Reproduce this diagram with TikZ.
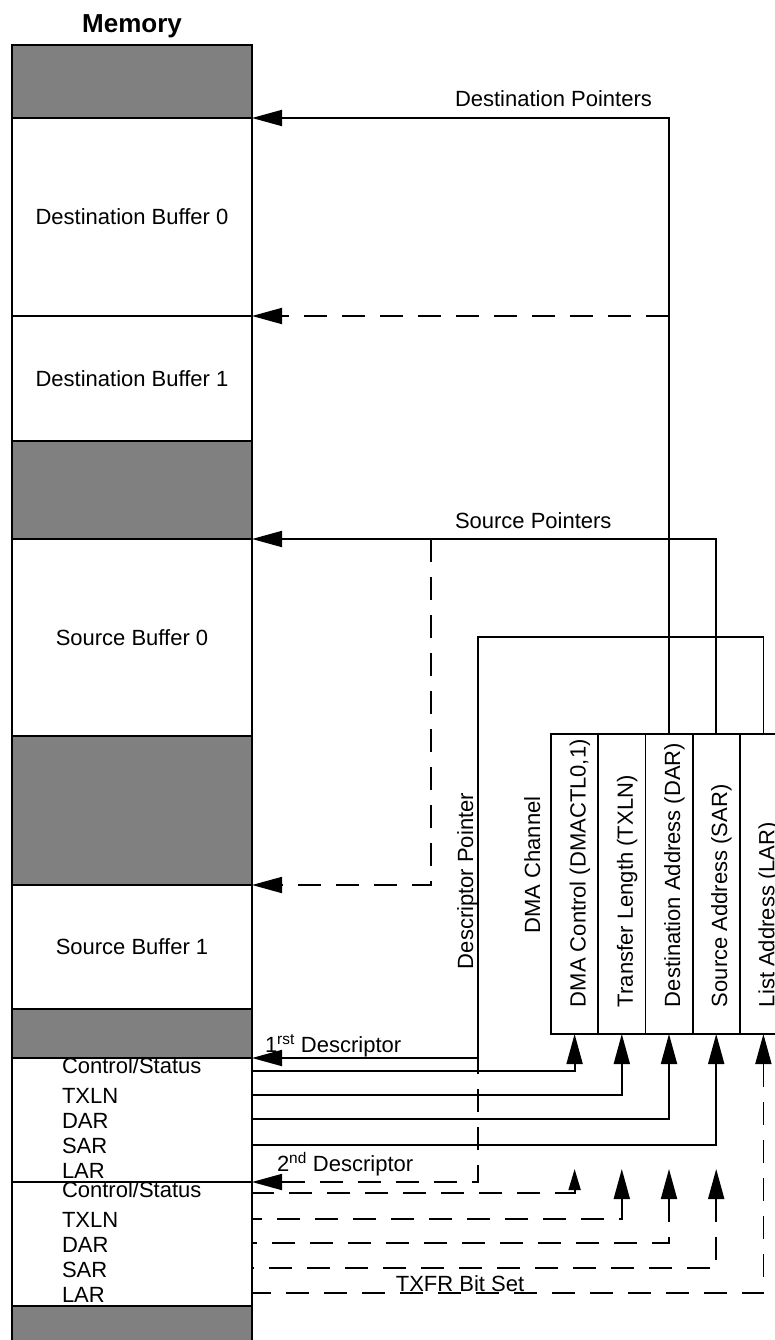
\documentclass[tikz,border=0pt]{standalone}
\usepackage{fontspec}
\setmainfont{Liberation Sans}
\usetikzlibrary{arrows.meta}
\definecolor{memgray}{RGB}{128,128,128}
\begin{document}
\begin{tikzpicture}[x=1pt,y=-1pt, line width=1.8pt, font=\fontsize{22}{26}\selectfont,
  memrow/.style={draw, rectangle, minimum width=240pt, anchor=north west, inner sep=0pt, outer sep=0pt},
  graycell/.style={memrow, fill=memgray},
  reg/.style={draw, rectangle, minimum width=47.2pt, minimum height=300pt, anchor=north west, inner sep=0pt, outer sep=0pt},
  ptr/.style={-{Triangle[length=30pt,width=16pt]}},
  rptr/.style={{Triangle[length=30pt,width=16pt]}-},
  rptrsmall/.style={{Triangle[length=21pt,width=12pt]}-},
  dsh/.style={dash pattern=on 23pt off 15pt},
  lbl/.style={inner sep=0pt, outer sep=0pt},
  vlbl/.style={lbl, rotate=90, anchor=base west}
]
\useasboundingbox (0,0) rectangle (775,1340);

% title
\node[lbl, anchor=base, font=\fontsize{26}{30}\selectfont\bfseries] (title) at (132,33) {Memory};

% memory rows
\node[graycell, minimum height=73pt]  (g1)  at (12,45)   {};
\node[memrow,   minimum height=198pt] (db0) at (12,118)  {Destination Buffer 0};
\node[memrow,   minimum height=125pt] (db1) at (12,316)  {Destination Buffer 1};
\node[graycell, minimum height=98pt]  (g2)  at (12,441)  {};
\node[memrow,   minimum height=197pt] (sb0) at (12,539)  {Source Buffer 0};
\node[graycell, minimum height=149pt] (g3)  at (12,736)  {};
\node[memrow,   minimum height=124pt] (sb1) at (12,885)  {Source Buffer 1};
\node[graycell, minimum height=49pt]  (g4)  at (12,1009) {};
\node[memrow,   minimum height=124pt] (d1)  at (12,1058) {};
\node[memrow,   minimum height=124pt] (d2)  at (12,1182) {};
\node[graycell, minimum height=60pt]  (g5)  at (12,1306) {};

% descriptor fields
\node[lbl, anchor=base west] (d1cs) at (62,1073) {Control/Status};
\node[lbl, anchor=base west] (d1tx) at (62,1103) {TXLN};
\node[lbl, anchor=base west] (d1da) at (62,1128) {DAR};
\node[lbl, anchor=base west] (d1sa) at (62,1153) {SAR};
\node[lbl, anchor=base west] (d1la) at (62,1178) {LAR};
\node[lbl, anchor=base west] (d2cs) at (62,1197) {Control/Status};
\node[lbl, anchor=base west] (d2tx) at (62,1227) {TXLN};
\node[lbl, anchor=base west] (d2da) at (62,1252) {DAR};
\node[lbl, anchor=base west] (d2sa) at (62,1277) {SAR};
\node[lbl, anchor=base west] (d2la) at (62,1302) {LAR};

% DMA channel registers
\node[reg] (rctl) at (551,734)   {};
\node[reg] (rtx)  at (598.2,734) {};
\node[reg] (rdar) at (645.4,734) {};
\node[reg] (rsar) at (692.6,734) {};
\node[reg] (rlar) at (739.8,734) {};
\node[vlbl] (tctl) at (585.6,1007) {DMA Control (DMACTL0,1)};
\node[vlbl] (ttx)  at (632.8,1007) {Transfer Length (TXLN)};
\node[vlbl] (tdar) at (680,1007)   {Destination Address (DAR)};
\node[vlbl] (tsar) at (727.2,1007) {Source Address (SAR)};
\node[vlbl] (tlar) at (774.4,1007) {List Address (LAR)};
\node[lbl, rotate=90, anchor=base] (dmach) at (540,865) {DMA Channel};
\node[lbl, rotate=90, anchor=base] (dplbl) at (473,881) {Descriptor Pointer};

% labels
\node[lbl, anchor=base west] (dstlab) at (455,107) {Destination Pointers};
\node[lbl, anchor=base west] (srclab) at (455,528) {Source Pointers};
\node[lbl, anchor=base west] (d1lab) at (265,1052) {1\textsuperscript{rst} Descriptor};
\node[lbl, anchor=base west] (d2lab) at (277,1171) {2\textsuperscript{nd} Descriptor};
\node[lbl, anchor=base] (txfr) at (460,1291) {TXFR Bit Set};

% coordinates
\coordinate (db1d) at (669,316);
\coordinate (spd) at (431,539);
\coordinate (dpc) at (478,637);
\coordinate (dpe) at (478,1067);
\coordinate (dp2) at (478,1058);
\coordinate (c1a) at (252,1071);
\coordinate (c1b) at (252,1095);
\coordinate (c1c) at (252,1119);
\coordinate (c1d) at (252,1145);
\coordinate (c2a) at (252,1193);
\coordinate (c2b) at (252,1219);
\coordinate (c2c) at (252,1243);
\coordinate (c2d) at (252,1268);
\coordinate (c2e) at (252,1293);
\coordinate (t2a) at (574.6,1169);
\coordinate (t2b) at (621.8,1169);
\coordinate (t2c) at (669,1169);
\coordinate (t2d) at (716.2,1169);

% pointers
\draw[ptr] (rdar.north) |- (db0.north east);
\draw[ptr, dsh] (db1d) -- (db1.north east);
\draw[ptr] (rsar.north) |- (sb0.north east);
\draw[ptr, dsh] (spd) |- (sb1.north east);
\draw[ptr] (rlar.north) |- (dpc) |- (d1.north east);
\draw (dp2) -- (dpe);
\draw[rptr, dsh] (d2.north east) -| (dp2);

% first descriptor loads
\draw[ptr] (c1a) -| (rctl.south);
\draw[ptr] (c1b) -| (rtx.south);
\draw[ptr] (c1c) -| (rdar.south);
\draw[ptr] (c1d) -| (rsar.south);

% second descriptor loads
\draw[rptrsmall, dsh] (t2a) |- (c2a);
\draw[rptr, dsh] (t2b) |- (c2b);
\draw[rptr, dsh] (t2c) |- (c2c);
\draw[rptr, dsh] (t2d) |- (c2d);
\draw[rptr, dsh] (rlar.south) |- (c2e);
\end{tikzpicture}
\end{document}
